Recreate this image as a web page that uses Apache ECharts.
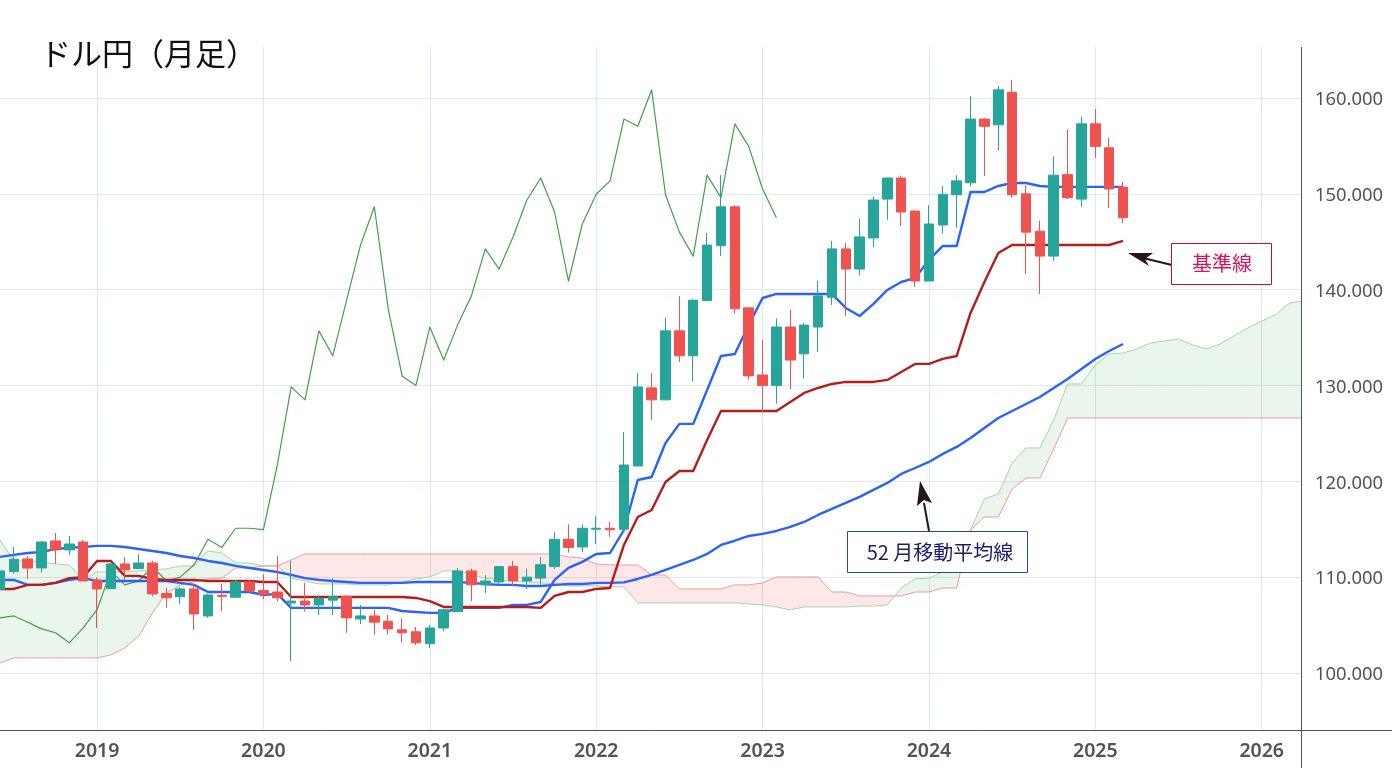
<!DOCTYPE html>
<html lang="ja">
<head>
<meta charset="utf-8">
<title>ドル円（月足）</title>
<script src="https://cdn.jsdelivr.net/npm/echarts@6/dist/echarts.min.js"></script>
<style>
html, body { margin: 0; padding: 0; background: #fff; }
#chart { width: 1392px; height: 768px; }
</style>
</head>
<body>
<div id="chart"></div>
<script>
const months = [
  '2018-06','2018-07','2018-08','2018-09','2018-10','2018-11','2018-12',
  '2019-01','2019-02','2019-03','2019-04','2019-05','2019-06','2019-07','2019-08','2019-09','2019-10','2019-11','2019-12',
  '2020-01','2020-02','2020-03','2020-04','2020-05','2020-06','2020-07','2020-08','2020-09','2020-10','2020-11','2020-12',
  '2021-01','2021-02','2021-03','2021-04','2021-05','2021-06','2021-07','2021-08','2021-09','2021-10','2021-11','2021-12',
  '2022-01','2022-02','2022-03','2022-04','2022-05','2022-06','2022-07','2022-08','2022-09','2022-10','2022-11','2022-12',
  '2023-01','2023-02','2023-03','2023-04','2023-05','2023-06','2023-07','2023-08','2023-09','2023-10','2023-11','2023-12',
  '2024-01','2024-02','2024-03','2024-04','2024-05','2024-06','2024-07','2024-08','2024-09','2024-10','2024-11','2024-12',
  '2025-01','2025-02','2025-03','2025-04','2025-05','2025-06','2025-07','2025-08','2025-09','2025-10','2025-11','2025-12',
  '2026-01','2026-02','2026-03','2026-04'
];

const opens = [
  108.73,110.6,111.9,110.96,113.78,112.84,113.67,
  109.7,108.8,111.38,110.9,111.48,108.3,107.95,108.77,105.95,108.1,107.9,109.5,
  108.6,108.45,107.3,107.5,107.1,107.6,108.0,105.64,105.95,105.4,104.5,104.3,
  103.05,104.7,106.4,110.65,109.2,109.5,111.1,109.6,109.9,111.1,113.95,113.15,
  115.0,115.1,115.0,121.6,129.75,128.5,135.7,133.1,138.85,144.6,148.65,138.1,
  131.1,130.0,136.1,133.3,136.1,139.2,144.25,142.15,145.4,149.45,151.65,148.2,
  140.9,146.75,149.9,151.15,157.8,157.2,160.6,150.0,146.1,143.5,152.0,149.45,
  157.3,154.8,150.7
];
const closes = [
  110.65,111.87,110.95,113.67,112.84,113.46,109.6,
  108.77,111.38,110.75,111.48,108.25,107.85,108.77,106.16,108.14,108.0,109.5,108.55,
  108.2,107.85,107.5,107.1,107.8,107.95,105.75,105.95,105.3,104.6,104.2,103.15,
  104.7,106.6,110.65,109.2,109.6,111.1,109.6,110.0,111.3,113.95,113.1,115.1,
  115.1,114.95,121.7,129.85,128.5,135.7,133.1,138.9,144.65,148.65,138.0,131.0,
  130.0,136.1,132.65,136.3,139.35,144.25,142.15,145.5,149.35,151.65,148.1,140.9,
  146.85,149.95,151.35,157.8,157.05,160.85,149.9,146.0,143.5,151.95,149.6,157.3,
  154.95,150.5,147.5
];
const lows = [
  108.1,110.33,109.8,110.47,111.38,112.3,109.6,
  104.7,108.8,109.7,110.85,108.0,106.8,107.2,104.5,105.75,106.45,107.9,108.4,
  107.7,107.5,101.25,106.4,106.05,106.05,104.2,105.1,104.0,104.0,103.2,102.9,
  102.6,104.4,106.35,107.5,108.35,109.2,109.05,108.75,109.2,110.85,112.55,112.6,
  113.46,114.2,114.65,121.6,126.4,128.5,132.45,130.4,138.85,143.5,137.5,130.6,
  127.2,128.1,129.6,130.7,133.5,138.4,137.25,141.5,144.45,147.3,146.65,140.3,
  140.9,145.9,146.45,150.8,151.85,154.5,149.6,141.65,139.55,143.0,149.45,148.65,
  153.75,148.5,146.95
];
const highs = [
  110.9,113.15,112.2,113.78,114.61,114.3,113.88,
  110.0,111.45,112.1,112.4,111.7,108.9,109.0,109.3,108.25,109.3,109.7,109.7,
  110.3,112.2,111.7,109.4,108.1,109.9,108.1,107.1,106.6,106.1,105.7,104.8,
  105.0,106.7,110.95,110.9,110.2,111.15,111.7,110.85,112.1,114.7,115.52,115.5,
  116.35,115.8,125.15,131.3,131.3,137.05,139.35,139.0,145.9,151.95,148.8,138.2,
  134.75,137.0,137.9,136.5,140.9,145.1,144.9,147.4,149.7,151.7,151.9,148.3,
  148.8,150.8,151.95,160.2,157.9,161.25,161.9,150.9,147.2,153.9,156.75,158.05,
  158.85,155.85,151.25
];

const tenkan = [
  109.71,109.71,109.19,109.19,109.4,109.71,109.9,
  109.6,109.6,109.6,109.6,109.6,109.6,109.4,109.19,108.45,108.45,108.45,108.45,
  108.14,108.25,106.79,106.79,106.79,106.79,106.79,106.79,106.79,106.79,106.47,106.37,
  106.27,106.27,106.79,106.79,106.79,106.79,107.1,107.1,107.41,109.71,110.96,111.59,
  112.42,112.52,114.92,120.14,120.45,123.99,125.99,125.99,129.53,133.08,133.29,136.32,
  139.13,139.55,139.55,139.55,139.55,139.55,138.09,137.25,138.51,139.97,140.8,141.22,
  143.1,144.56,144.56,150.19,150.19,150.82,151.13,151.13,150.82,150.72,150.72,150.72,
  150.72,150.72,150.72
];
const kijun = [
  108.77,108.77,109.19,109.19,109.4,109.9,110.0,
  111.69,111.69,110.13,110.13,109.81,109.71,109.71,109.71,109.6,109.6,109.6,109.6,
  109.5,109.5,107.93,107.93,107.93,107.93,107.93,107.93,107.93,107.93,107.93,107.83,
  107.5,106.89,106.89,106.89,106.89,106.89,106.89,106.89,106.79,108.04,108.45,108.45,
  108.77,108.87,113.36,116.28,117.01,119.93,121.08,121.08,124.31,127.34,127.34,127.34,
  127.34,127.34,128.28,129.22,129.74,130.16,130.37,130.37,130.37,130.58,131.41,132.25,
  132.25,132.77,133.08,137.57,140.8,143.83,144.66,144.66,144.66,144.66,144.66,144.66,
  144.66,144.66,145.08
];
const ma52 = [
  112.11,112.32,112.52,112.63,112.94,113.05,113.15,
  113.26,113.26,113.15,112.94,112.73,112.52,112.21,112.0,111.69,111.48,111.17,110.96,
  110.75,110.54,110.23,109.9,109.71,109.6,109.5,109.4,109.4,109.4,109.4,109.5,
  109.5,109.5,109.5,109.4,109.29,109.19,109.19,109.08,109.08,109.19,109.29,109.29,
  109.4,109.4,109.45,109.81,110.23,110.75,111.27,111.79,112.42,113.36,113.8,114.3,
  114.51,114.82,115.24,115.76,116.49,117.12,117.74,118.37,119.1,119.83,120.77,121.39,
  122.02,122.86,123.59,124.52,125.57,126.61,127.34,128.07,128.8,129.74,130.68,131.72,
  132.77,133.6,134.33
];
const chikou = [
  105.75,105.95,105.3,104.6,104.2,103.15,104.7,
  106.6,110.65,109.2,109.6,111.1,109.6,110.0,111.3,113.95,113.1,115.1,115.1,
  114.95,121.7,129.85,128.5,135.7,133.1,138.9,144.65,148.65,138.0,131.0,130.0,
  136.1,132.65,136.3,139.35,144.25,142.15,145.5,149.35,151.65,148.1,140.9,146.85,
  149.95,151.35,157.8,157.05,160.85,149.9,146.0,143.5,151.95,149.6,157.3,154.95,
  150.5,147.5
];
const senkouA = [
  113.88,111.69,111.69,111.58,111.38,111.27,109.71,
  110.54,110.54,110.54,110.65,110.75,110.86,111.17,111.17,112.73,112.52,111.48,111.48,
  111.17,111.17,109.9,109.6,109.29,109.29,109.29,109.19,109.19,109.19,109.5,109.81,
  110.02,110.65,110.65,110.23,109.9,109.71,109.6,109.5,109.4,109.29,109.08,109.08,
  109.08,108.98,108.98,107.31,107.31,107.31,107.31,107.31,107.31,107.31,107.31,107.2,
  107.1,106.89,106.58,106.89,106.89,106.89,106.89,106.99,106.99,107.1,108.87,109.81,
  109.9,110.54,112.63,114.93,118.16,118.68,121.9,123.48,123.48,126.4,130.16,130.16,
  132.14,133.29,133.39,133.81,134.44,134.65,134.86,134.23,133.81,134.33,135.17,136.0,
  136.73,137.36,138.61,138.82
];
const senkouB = [
  101.05,101.57,101.57,101.57,101.57,101.57,101.57,
  101.57,101.88,102.61,103.86,106.27,108.35,109.19,109.5,109.81,109.9,110.96,110.96,
  111.17,111.17,111.79,112.42,112.42,112.42,112.42,112.42,112.42,112.42,112.42,112.42,
  112.42,112.42,112.42,112.42,112.42,112.42,112.42,112.42,112.42,112.42,112.11,112.0,
  111.38,111.27,111.27,111.27,110.23,110.23,108.77,108.77,108.77,108.77,109.19,109.19,
  109.4,110.02,110.02,110.02,110.02,108.45,108.45,108.04,108.04,108.04,108.04,108.45,
  108.45,108.87,108.87,114.93,116.28,116.28,119.2,120.35,120.35,123.38,126.61,126.61,
  126.61,126.61,126.61,126.61,126.61,126.61,126.61,126.61,126.61,126.61,126.61,126.61,
  126.61,126.61,126.61,126.61
];

const axisMin = 94.05;
const axisMax = 165.32;

const candleData = opens.map((o, i) => [o, closes[i], lows[i], highs[i]]);
const cloudData = senkouA.slice(0, -1).map((a, i) => [i, a, senkouB[i], senkouA[i + 1], senkouB[i + 1]]);

const GREEN_FILL = 'rgba(67,160,71,0.11)';
const RED_FILL = 'rgba(244,67,54,0.12)';

// one cloud segment between two months, split where the spans cross
function renderCloud(params, api) {
  const i = api.value(0);
  const a0 = api.value(1), b0 = api.value(2), a1 = api.value(3), b1 = api.value(4);
  const pa0 = api.coord([i, a0]), pb0 = api.coord([i, b0]);
  const pa1 = api.coord([i + 1, a1]), pb1 = api.coord([i + 1, b1]);
  const d0 = a0 - b0, d1 = a1 - b1;
  const poly = (points, fill) => ({ type: 'polygon', shape: { points }, style: { fill } });
  if (d0 * d1 < 0) {
    const t = d0 / (d0 - d1);
    const cross = [pa0[0] + t * (pa1[0] - pa0[0]), pa0[1] + t * (pa1[1] - pa0[1])];
    return {
      type: 'group',
      children: [
        poly([pa0, cross, pb0], d0 > 0 ? GREEN_FILL : RED_FILL),
        poly([cross, pa1, pb1], d1 > 0 ? GREEN_FILL : RED_FILL)
      ]
    };
  }
  return poly([pa0, pa1, pb1, pb0], d0 + d1 >= 0 ? GREEN_FILL : RED_FILL);
}

function lineSeries(name, data, color, width, z) {
  return {
    name, type: 'line', data, z,
    symbol: 'none', smooth: false, silent: true,
    lineStyle: { color, width, join: 'round' }
  };
}

const FRAME = '#50535e';
const ARROW = '#231815';
const JP_FONT = '"Noto Sans CJK JP", sans-serif';
const LABEL_FONT = '"Noto Sans", sans-serif';

const chart = echarts.init(document.getElementById('chart'));

chart.setOption({
  animation: false,
  backgroundColor: '#fff',
  title: {
    text: 'ドル円（月足）',
    left: 35, top: 33,
    textStyle: { fontFamily: JP_FONT, fontSize: 31, fontWeight: 'normal', color: '#111' }
  },
  // month spacing does not divide the plot width evenly, so the grid runs about 2px
  // past the price axis and the overhang is covered below
  grid: { left: -0.4, right: 88.7, top: 47, bottom: 38 },
  xAxis: {
    type: 'category',
    data: months,
    boundaryGap: false,
    axisLine: { onZero: false, lineStyle: { color: FRAME, width: 1 } },
    axisTick: { show: false },
    axisLabel: {
      interval: (i, v) => v.endsWith('-01'),
      formatter: v => v.slice(0, 4),
      margin: 11,
      fontFamily: LABEL_FONT, fontSize: 19.5, fontWeight: 600, color: '#50535e'
    },
    splitLine: {
      show: true,
      interval: (i, v) => v.endsWith('-01'),
      lineStyle: { color: '#dce9f0', width: 1 }
    }
  },
  yAxis: {
    type: 'value',
    position: 'right',
    min: axisMin,
    max: axisMax,
    splitNumber: 7,
    axisLine: { show: false },
    axisTick: { show: false },
    axisLabel: {
      formatter: v => (Number.isInteger(v) ? v.toFixed(3) : ''),
      margin: 11.7,
      verticalAlign: 'top',
      lineHeight: 4,
      fontFamily: LABEL_FONT, fontSize: 18.4, color: '#50535e'
    },
    splitLine: {
      show: true,
      showMinLine: false, showMaxLine: false,
      lineStyle: { color: '#dcecec', width: 1 }
    }
  },
  series: [
    {
      type: 'custom', data: cloudData, renderItem: renderCloud,
      clip: true, silent: true, z: 1,
      encode: { x: 0, y: [1, 2, 3, 4] }
    },
    lineSeries('先行スパンA', senkouA, '#a5d6a7', 1, 2),
    lineSeries('先行スパンB', senkouB, '#ef9a9a', 1, 2),
    lineSeries('遅行線', chikou, '#43a047', 1.2, 3),
    lineSeries('52月移動平均線', ma52, '#2962ff', 2.4, 3),
    lineSeries('転換線', tenkan, '#2962ff', 2.4, 4),
    lineSeries('基準線', kijun, '#b71c1c', 2.4, 4),
    {
      type: 'candlestick', data: candleData, barWidth: 10, z: 5, silent: true,
      itemStyle: {
        color: '#26a69a', color0: '#ef5350',
        borderColor: '#26a69a', borderColor0: '#ef5350', borderWidth: 1
      }
    }
  ],
  graphic: [
    { type: 'rect', z: 49, shape: { x: 1302, y: 40, width: 4, height: 690 }, style: { fill: '#fff' } },
    // axis lines run on past the plot area
    { type: 'line', z: 50, shape: { x1: 1301.5, y1: 47, x2: 1301.5, y2: 768 }, style: { stroke: FRAME, lineWidth: 1 } },
    { type: 'line', z: 50, shape: { x1: 1301, y1: 730.5, x2: 1392, y2: 730.5 }, style: { stroke: FRAME, lineWidth: 1 } },
    // 基準線 note
    { type: 'line', z: 60, shape: { x1: 1172, y1: 265, x2: 1143, y2: 258 }, style: { stroke: ARROW, lineWidth: 2 } },
    { type: 'polygon', z: 60, shape: { points: [[1128, 253], [1153, 253], [1145, 259], [1149, 266]] }, style: { fill: ARROW } },
    {
      type: 'rect', z: 61, shape: { x: 1171.5, y: 243.5, width: 100, height: 41 },
      style: { fill: '#fff', stroke: '#c8102e', lineWidth: 1 }
    },
    {
      type: 'text', z: 62, x: 1222, y: 263,
      style: { text: '基準線', fontFamily: JP_FONT, fontSize: 20, fill: '#d5145a', align: 'center', verticalAlign: 'middle' }
    },
    // 52月移動平均線 note
    { type: 'line', z: 60, shape: { x1: 929, y1: 531, x2: 924, y2: 503 }, style: { stroke: ARROW, lineWidth: 2 } },
    { type: 'polygon', z: 60, shape: { points: [[920, 481], [932, 503], [924, 500], [917, 506]] }, style: { fill: ARROW } },
    {
      type: 'rect', z: 61, shape: { x: 847.5, y: 531.5, width: 180, height: 41 },
      style: { fill: '#fff', stroke: '#1f4e8c', lineWidth: 1 }
    },
    {
      type: 'text', z: 62, x: 940, y: 552,
      style: { text: '52 月移動平均線', fontFamily: JP_FONT, fontSize: 20, fill: '#1a1a6e', align: 'center', verticalAlign: 'middle' }
    }
  ]
});
</script>
</body>
</html>
